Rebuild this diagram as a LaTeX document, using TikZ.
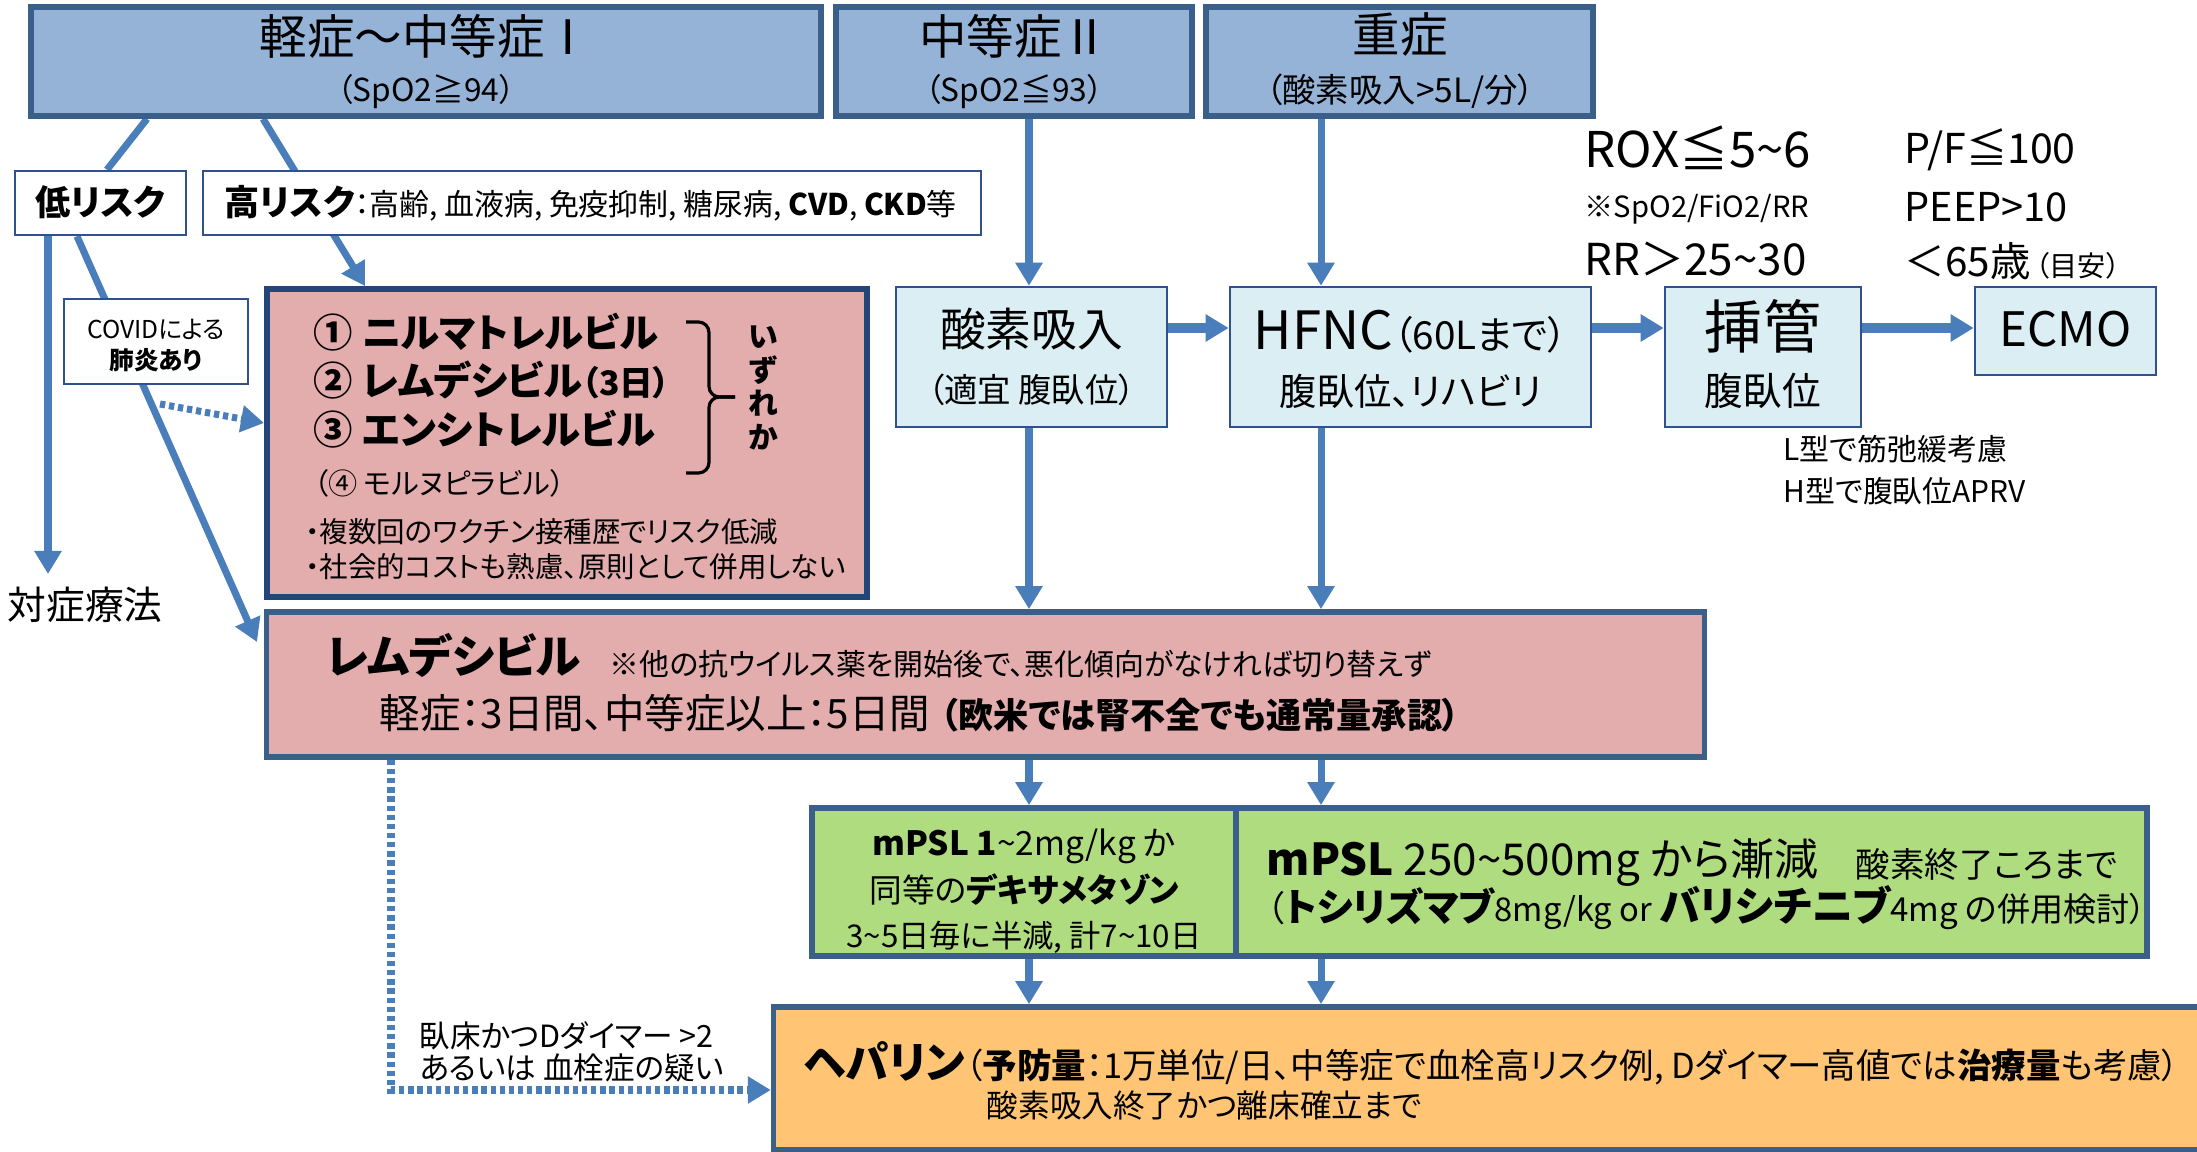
\documentclass[tikz,border=0pt]{standalone}
\usepackage{fontspec}
\setmainfont{Noto Sans CJK JP}[RawFeature={+palt}]
\usetikzlibrary{arrows.meta,calc}
\pgfdeclarelayer{bg}
\pgfsetlayers{bg,main}
\definecolor{topfill}{HTML}{95B3D7}
\definecolor{bord}{HTML}{3A5F8B}
\definecolor{navy}{HTML}{24457A}
\definecolor{thinb}{HTML}{2F528F}
\definecolor{arr}{HTML}{4A7EBB}
\definecolor{lblue}{HTML}{DBEEF4}
\definecolor{pinkf}{HTML}{E3ACAD}
\definecolor{greenf}{HTML}{AFDC7E}
\definecolor{orangef}{HTML}{FFC575}
\newcommand{\fz}[1]{\fontsize{#1}{#1}\selectfont}
\newcommand{\tld}{\textasciitilde}
\begin{document}
\begin{tikzpicture}[x=0.01cm,y=-0.01cm,
  topbox/.style={draw=bord,line width=1.6pt,fill=topfill,inner sep=0pt},
  wbox/.style={draw=thinb,line width=0.7pt,fill=white,inner sep=0pt},
  lbbox/.style={draw=thinb,line width=0.7pt,fill=lblue,inner sep=0pt},
  pbox/.style={draw=navy,line width=1.6pt,fill=pinkf,inner sep=0pt},
  rbox/.style={draw=bord,line width=1.6pt,fill=pinkf,inner sep=0pt},
  gbox/.style={draw=bord,line width=1.6pt,fill=greenf,inner sep=0pt},
  obox/.style={draw=bord,line width=1.6pt,fill=orangef,inner sep=0pt},
  txt/.style={inner sep=0pt,text=black,text height=0.82em,text depth=0.12em},
  lnk/.style={draw=arr,line width=2pt},
  conn/.style={draw=arr,line width=2pt,-{Triangle[width=0.26cm,length=0.23cm]}},
  tconn/.style={draw=arr,line width=2.8pt,-{Triangle[width=0.26cm,length=0.23cm]}},
  dotconn/.style={draw=arr,line width=2pt,dash pattern=on 1.5pt off 1.1pt,-{Triangle[width=0.26cm,length=0.23cm]}}
]
\useasboundingbox (0,0) rectangle (2197,1152);

% top boxes
\node[topbox,minimum width=7.90cm,minimum height=1.09cm] (A) at (426,61.5) {};
\node[txt,font=\fz{13.5pt}] (At) at (426,42) {軽症～中等症Ⅰ};
\node[txt,font=\fz{9pt}] (As) at (426,89) {（SpO2≧94）};
\node[topbox,minimum width=3.56cm,minimum height=1.09cm] (B) at (1014,61.5) {};
\node[txt,font=\fz{13.5pt}] (Bt) at (1014,42) {中等症Ⅱ};
\node[txt,font=\fz{9pt}] (Bs) at (1014,89) {（SpO2≦93）};
\node[topbox,minimum width=3.87cm,minimum height=1.09cm] (C) at (1399.5,61.5) {};
\node[txt,font=\fz{13.5pt}] (Ct) at (1400,40) {重症};
\node[txt,font=\fz{9.5pt}] (Cs) at (1400,90) {（酸素吸入>5L/分）};

% risk boxes
\node[wbox,minimum width=1.71cm,minimum height=0.64cm] (L) at (100.5,203) {};
\node[txt,font=\fz{10pt}\bfseries] (Lt) at (100.5,203) {低リスク};
\node[wbox,minimum width=7.78cm,minimum height=0.64cm] (H) at (592,203) {};
\node[txt,anchor=west] (Ht) at (224,203) {{\fz{10pt}\bfseries 高リスク}{\fz{8.5pt}：高齢, 血液病, 免疫抑制, 糖尿病, \textbf{CVD}, \textbf{CKD}等}};

\node[wbox,minimum width=1.84cm,minimum height=0.85cm] (V) at (156,341.5) {};
\node[txt,font=\fz{7pt}] (Vt1) at (156,326) {COVIDによる};
\node[txt,font=\fz{7pt}\bfseries] (Vt2) at (156,357) {肺炎あり};

% antivirals
\node[pbox,minimum width=6.00cm,minimum height=3.08cm] (P) at (567,443) {};
\node[txt,anchor=west,font=\fz{11.2pt}\bfseries] (P1) at (313,335) {① ニルマトレルビル};
\node[txt,anchor=west,font=\fz{11.2pt}\bfseries] (P2) at (313,383) {② レムデシビル{\fz{9.6pt}（3日）}};
\node[txt,anchor=west,font=\fz{11.2pt}\bfseries] (P3) at (313,432) {③ エンシトレルビル};
\node[txt,anchor=west,font=\fz{8.3pt}] (P4) at (313,482) {（④ モルヌピラビル）};
\node[txt,anchor=west,font=\fz{8.1pt}] (P5) at (305,530) {・複数回のワクチン接種歴でリスク低減};
\node[txt,anchor=west,font=\fz{8.1pt}] (P6) at (305,565) {・社会的コストも熟慮、原則として併用しない};
\draw[black,line width=0.9pt,rounded corners=3pt] (686,322) -- (709,322) -- (709,397) -- (735,397);
\draw[black,line width=0.9pt,rounded corners=3pt] (735,397) -- (709,397) -- (709,473) -- (686,473);
\node[inner sep=0pt,font=\fontsize{8.5pt}{9.6pt}\selectfont\bfseries,align=center] (Pz) at (763,388) {い\\ず\\れ\\か};

\node[txt,font=\fz{11pt}] (S) at (85,607) {対症療法};

% oxygen row
\node[lbbox,minimum width=2.71cm,minimum height=1.40cm] (O) at (1031.5,357) {};
\node[txt,font=\fz{13pt}] (Ot) at (1031.5,334) {酸素吸入};
\node[txt,font=\fz{9.5pt}] (Os) at (1031.5,390) {（適宜 腹臥位）};
\node[lbbox,minimum width=3.61cm,minimum height=1.40cm] (F) at (1410.5,357) {};
\node[txt] (Ft) at (1410.5,337) {{\fz{15pt}HFNC}{\fz{11pt}（60Lまで）}};
\node[txt,font=\fz{10.6pt}] (Fs) at (1410.5,393) {腹臥位、リハビリ};
\node[lbbox,minimum width=1.96cm,minimum height=1.40cm] (T) at (1763,357) {};
\node[txt,font=\fz{16.5pt}] (Tt) at (1763,336) {挿管};
\node[txt,font=\fz{11pt}] (Ts) at (1763,393) {腹臥位};
\node[lbbox,minimum width=1.81cm,minimum height=0.88cm] (E) at (2065.5,331) {};
\node[txt,font=\fz{13.5pt}] (Et) at (2065.5,334) {ECMO};

\node[txt,anchor=west,font=\fz{14pt}] (R1) at (1584,155) {ROX≦5\tld{}6};
\node[txt,anchor=west,font=\fz{8.3pt}] (R2) at (1584,205) {※SpO2/FiO2/RR};
\node[txt,anchor=west,font=\fz{12.5pt}] (R3) at (1584,263) {RR＞25\tld{}30};
\node[txt,anchor=west,font=\fz{11.7pt}] (Q1) at (1904,151) {P/F≦100};
\node[txt,anchor=west,font=\fz{11.3pt}] (Q2) at (1904,209) {PEEP>10};
\node[txt,anchor=west] (Q3) at (1904,264) {{\fz{11.5pt}＜65歳}\hspace{1.5pt}{\fz{8pt}（目安）}};
\node[txt,anchor=west,font=\fz{8.5pt}] (N1) at (1783,448) {L型で筋弛緩考慮};
\node[txt,anchor=west,font=\fz{8.5pt}] (N2) at (1783,490) {H型で腹臥位APRV};

% remdesivir
\node[rbox,minimum width=14.37cm,minimum height=1.45cm] (R) at (985.5,684.5) {};
\node[txt,anchor=west,font=\fz{13pt}\bfseries] (Rt1) at (325,661) {レムデシビル};
\node[txt,anchor=west,font=\fz{8.5pt}] (Rt2) at (609,663) {※他の抗ウイルス薬を開始後で、悪化傾向がなければ切り替えず};
\node[txt,anchor=west,font=\fz{11.5pt}] (Rs) at (379,716) {軽症：3日間、中等症以上：5日間\hspace{3pt}{\fz{10pt}\bfseries（欧米では腎不全でも通常量承認）}};

% steroids
\node[gbox,minimum width=4.24cm,minimum height=1.48cm] (G1) at (1024,882) {};
\node[gbox,minimum width=9.11cm,minimum height=1.48cm] (G2) at (1691.5,882) {};
\node[txt,font=\fz{9.5pt}] (G1a) at (1024,843) {\textbf{mPSL 1}\tld{}2mg/kg か};
\node[txt,font=\fz{9.3pt}] (G1b) at (1024,890) {同等の\textbf{デキサメタゾン}};
\node[txt,font=\fz{8.9pt}] (G1c) at (1024,935) {3\tld{}5日毎に半減, 計7\tld{}10日};
\node[txt,anchor=west,font=\fz{12.5pt}] (G2a) at (1266,863) {\textbf{mPSL} 250\tld{}500mg から漸減};
\node[txt,anchor=west,font=\fz{9.8pt}] (G2b) at (1855,865) {酸素終了ころまで};
\node[txt,anchor=west] (G2c) at (1266,909) {{\fz{10pt}（}{\fz{11pt}\bfseries トシリズマブ}{\fz{9.3pt}8mg/kg or }{\fz{11.7pt}\bfseries バリシチニブ}{\fz{9.4pt}4mg の併用検討）}};

% heparin
\node[obox,minimum width=14.56cm,minimum height=1.43cm] (Hp) at (1502,1078.5) {};
\node[txt,anchor=west] (Hp1) at (803,1066) {{\fz{12.3pt}\bfseries ヘパリン}{\fz{9.8pt}（\textbf{予防量}：1万単位/日、中等症で血栓高リスク例, Dダイマー高値では\textbf{治療量}も考慮）}};
\node[txt,anchor=west,font=\fz{9pt}] (Hp2) at (986,1105) {酸素吸入終了かつ離床確立まで};
\node[txt,anchor=west,font=\fz{8.7pt}] (D1) at (419,1035) {臥床かつDダイマー >2};
\node[txt,anchor=west,font=\fz{8.7pt}] (D2) at (419,1067) {あるいは 血栓症の疑い};

% helper coordinates
\coordinate (k1) at (147,0);
\coordinate (k2) at (107,0);
\coordinate (k3) at (263,0);
\coordinate (k4) at (365,0);
\coordinate (k5) at (48,0);
\coordinate (k6) at (77,0);
\coordinate (tipR) at (257,642);
\coordinate (dstart) at (160,404);
\coordinate (k7) at (0,423);
\coordinate (kO) at (1029,0);
\coordinate (kH) at (1321,0);
\coordinate (kY) at (0,328);
\coordinate (kd) at (391,0);
\coordinate (kdy) at (0,1090);
\coordinate (tipS) at (48,574);

\begin{pgfonlayer}{bg}
\draw[lnk] (A.south -| k1) -- (L.north -| k2);
\draw[conn] (A.south -| k3) -- (P.north -| k4);
\draw[conn] (L.south -| k5) -- (tipS);
\draw[conn] (L.south -| k6) -- (tipR);
\draw[dotconn] (dstart) -- (P.west |- k7);
\draw[conn] (B.south -| kO) -- (O.north -| kO);
\draw[conn] (C.south -| kH) -- (F.north -| kH);
\draw[tconn] (O.east |- kY) -- (F.west |- kY);
\draw[tconn] (F.east |- kY) -- (T.west |- kY);
\draw[tconn] (T.east |- kY) -- (E.west |- kY);
\draw[conn] (O.south -| kO) -- (R.north -| kO);
\draw[conn] (F.south -| kH) -- (R.north -| kH);
\draw[conn] (R.south -| kO) -- (G1.north -| kO);
\draw[conn] (R.south -| kH) -- (G2.north -| kH);
\draw[conn] (G1.south -| kO) -- (Hp.north -| kO);
\draw[conn] (G2.south -| kH) -- (Hp.north -| kH);
\draw[dotconn] (R.south -| kd) -- (kd |- kdy) -- (Hp.west |- kdy);
\end{pgfonlayer}
\end{tikzpicture}
\end{document}
